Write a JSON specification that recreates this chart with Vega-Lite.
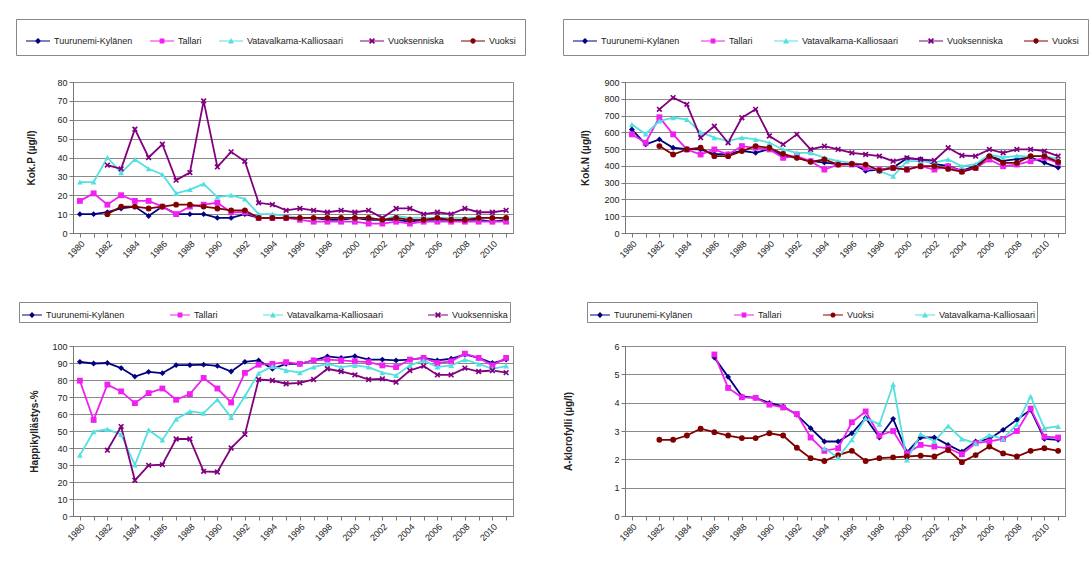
{
"$schema":"https://vega.github.io/schema/vega-lite/v6.json",
"background":"white",
"padding":{"left":15,"top":18,"right":5,"bottom":5},
"config":{"font":"Liberation Sans","view":{"stroke":"#8a8a8a"},
"axis":{"labelFont":"Liberation Sans","titleFont":"Liberation Sans","labelFontSize":9,"titleFontSize":10,"titleFontWeight":"bold","labelColor":"#222","titleColor":"#222","domainColor":"#777","tickColor":"#777","gridColor":"#8a8a8a","tickSize":4},
"legend":{"labelFont":"Liberation Sans","labelFontSize":9,"labelColor":"#222","labelOffset":3}},
"spacing":264,"bounds":"flush",
"resolve":{"scale":{"color":"independent","shape":"independent"},"legend":{"color":"independent","shape":"independent"}},
"vconcat":[
{"hconcat":[
{"width":440,"height":151,
"data":{"values":[
{"year":1980,"site":"Tuurunemi-Kylänen","value":10},{"year":1981,"site":"Tuurunemi-Kylänen","value":10},{"year":1982,"site":"Tuurunemi-Kylänen","value":11},{"year":1983,"site":"Tuurunemi-Kylänen","value":13},{"year":1984,"site":"Tuurunemi-Kylänen","value":14},{"year":1985,"site":"Tuurunemi-Kylänen","value":9},{"year":1986,"site":"Tuurunemi-Kylänen","value":14},{"year":1987,"site":"Tuurunemi-Kylänen","value":10},{"year":1988,"site":"Tuurunemi-Kylänen","value":10},{"year":1989,"site":"Tuurunemi-Kylänen","value":10},{"year":1990,"site":"Tuurunemi-Kylänen","value":8},{"year":1991,"site":"Tuurunemi-Kylänen","value":8},{"year":1992,"site":"Tuurunemi-Kylänen","value":10},{"year":1993,"site":"Tuurunemi-Kylänen","value":8},{"year":1994,"site":"Tuurunemi-Kylänen","value":8},{"year":1995,"site":"Tuurunemi-Kylänen","value":8},{"year":1996,"site":"Tuurunemi-Kylänen","value":8},{"year":1997,"site":"Tuurunemi-Kylänen","value":8},{"year":1998,"site":"Tuurunemi-Kylänen","value":7},{"year":1999,"site":"Tuurunemi-Kylänen","value":7},{"year":2000,"site":"Tuurunemi-Kylänen","value":8},{"year":2001,"site":"Tuurunemi-Kylänen","value":7},{"year":2002,"site":"Tuurunemi-Kylänen","value":7},{"year":2003,"site":"Tuurunemi-Kylänen","value":7},{"year":2004,"site":"Tuurunemi-Kylänen","value":6},{"year":2005,"site":"Tuurunemi-Kylänen","value":7},{"year":2006,"site":"Tuurunemi-Kylänen","value":7},{"year":2007,"site":"Tuurunemi-Kylänen","value":7},{"year":2008,"site":"Tuurunemi-Kylänen","value":7},{"year":2009,"site":"Tuurunemi-Kylänen","value":7},{"year":2010,"site":"Tuurunemi-Kylänen","value":6},{"year":2011,"site":"Tuurunemi-Kylänen","value":7},
{"year":1980,"site":"Tallari","value":17},{"year":1981,"site":"Tallari","value":21},{"year":1982,"site":"Tallari","value":15},{"year":1983,"site":"Tallari","value":20},{"year":1984,"site":"Tallari","value":17},{"year":1985,"site":"Tallari","value":17},{"year":1986,"site":"Tallari","value":14},{"year":1987,"site":"Tallari","value":10},{"year":1988,"site":"Tallari","value":14},{"year":1989,"site":"Tallari","value":15},{"year":1990,"site":"Tallari","value":16},{"year":1991,"site":"Tallari","value":11},{"year":1992,"site":"Tallari","value":11},{"year":1993,"site":"Tallari","value":8},{"year":1994,"site":"Tallari","value":8},{"year":1995,"site":"Tallari","value":8},{"year":1996,"site":"Tallari","value":7},{"year":1997,"site":"Tallari","value":6},{"year":1998,"site":"Tallari","value":6},{"year":1999,"site":"Tallari","value":6},{"year":2000,"site":"Tallari","value":6},{"year":2001,"site":"Tallari","value":5},{"year":2002,"site":"Tallari","value":5},{"year":2003,"site":"Tallari","value":6},{"year":2004,"site":"Tallari","value":5},{"year":2005,"site":"Tallari","value":6},{"year":2006,"site":"Tallari","value":6},{"year":2007,"site":"Tallari","value":6},{"year":2008,"site":"Tallari","value":6},{"year":2009,"site":"Tallari","value":6},{"year":2010,"site":"Tallari","value":6},{"year":2011,"site":"Tallari","value":6},
{"year":1980,"site":"Vatavalkama-Kalliosaari","value":27},{"year":1981,"site":"Vatavalkama-Kalliosaari","value":27},{"year":1982,"site":"Vatavalkama-Kalliosaari","value":40},{"year":1983,"site":"Vatavalkama-Kalliosaari","value":32},{"year":1984,"site":"Vatavalkama-Kalliosaari","value":39},{"year":1985,"site":"Vatavalkama-Kalliosaari","value":34},{"year":1986,"site":"Vatavalkama-Kalliosaari","value":31},{"year":1987,"site":"Vatavalkama-Kalliosaari","value":21},{"year":1988,"site":"Vatavalkama-Kalliosaari","value":23},{"year":1989,"site":"Vatavalkama-Kalliosaari","value":26},{"year":1990,"site":"Vatavalkama-Kalliosaari","value":19},{"year":1991,"site":"Vatavalkama-Kalliosaari","value":20},{"year":1992,"site":"Vatavalkama-Kalliosaari","value":18},{"year":1993,"site":"Vatavalkama-Kalliosaari","value":10},{"year":1994,"site":"Vatavalkama-Kalliosaari","value":10},{"year":1995,"site":"Vatavalkama-Kalliosaari","value":9},{"year":1996,"site":"Vatavalkama-Kalliosaari","value":8},{"year":1997,"site":"Vatavalkama-Kalliosaari","value":8},{"year":1998,"site":"Vatavalkama-Kalliosaari","value":8},{"year":1999,"site":"Vatavalkama-Kalliosaari","value":8},{"year":2000,"site":"Vatavalkama-Kalliosaari","value":8},{"year":2001,"site":"Vatavalkama-Kalliosaari","value":8},{"year":2002,"site":"Vatavalkama-Kalliosaari","value":7},{"year":2003,"site":"Vatavalkama-Kalliosaari","value":9},{"year":2004,"site":"Vatavalkama-Kalliosaari","value":8},{"year":2005,"site":"Vatavalkama-Kalliosaari","value":8},{"year":2006,"site":"Vatavalkama-Kalliosaari","value":8},{"year":2007,"site":"Vatavalkama-Kalliosaari","value":8},{"year":2008,"site":"Vatavalkama-Kalliosaari","value":8},{"year":2009,"site":"Vatavalkama-Kalliosaari","value":8},{"year":2010,"site":"Vatavalkama-Kalliosaari","value":8},{"year":2011,"site":"Vatavalkama-Kalliosaari","value":8},
{"year":1982,"site":"Vuoksenniska","value":36},{"year":1983,"site":"Vuoksenniska","value":34},{"year":1984,"site":"Vuoksenniska","value":55},{"year":1985,"site":"Vuoksenniska","value":40},{"year":1986,"site":"Vuoksenniska","value":47},{"year":1987,"site":"Vuoksenniska","value":28},{"year":1988,"site":"Vuoksenniska","value":32},{"year":1989,"site":"Vuoksenniska","value":70},{"year":1990,"site":"Vuoksenniska","value":35},{"year":1991,"site":"Vuoksenniska","value":43},{"year":1992,"site":"Vuoksenniska","value":38},{"year":1993,"site":"Vuoksenniska","value":16},{"year":1994,"site":"Vuoksenniska","value":15},{"year":1995,"site":"Vuoksenniska","value":12},{"year":1996,"site":"Vuoksenniska","value":13},{"year":1997,"site":"Vuoksenniska","value":12},{"year":1998,"site":"Vuoksenniska","value":11},{"year":1999,"site":"Vuoksenniska","value":12},{"year":2000,"site":"Vuoksenniska","value":11},{"year":2001,"site":"Vuoksenniska","value":12},{"year":2002,"site":"Vuoksenniska","value":8},{"year":2003,"site":"Vuoksenniska","value":13},{"year":2004,"site":"Vuoksenniska","value":13},{"year":2005,"site":"Vuoksenniska","value":10},{"year":2006,"site":"Vuoksenniska","value":11},{"year":2007,"site":"Vuoksenniska","value":10},{"year":2008,"site":"Vuoksenniska","value":13},{"year":2009,"site":"Vuoksenniska","value":11},{"year":2010,"site":"Vuoksenniska","value":11},{"year":2011,"site":"Vuoksenniska","value":12},
{"year":1982,"site":"Vuoksi","value":10},{"year":1983,"site":"Vuoksi","value":14},{"year":1984,"site":"Vuoksi","value":14},{"year":1985,"site":"Vuoksi","value":13},{"year":1986,"site":"Vuoksi","value":14},{"year":1987,"site":"Vuoksi","value":15},{"year":1988,"site":"Vuoksi","value":15},{"year":1989,"site":"Vuoksi","value":14},{"year":1990,"site":"Vuoksi","value":13},{"year":1991,"site":"Vuoksi","value":12},{"year":1992,"site":"Vuoksi","value":12},{"year":1993,"site":"Vuoksi","value":8},{"year":1994,"site":"Vuoksi","value":8},{"year":1995,"site":"Vuoksi","value":8},{"year":1996,"site":"Vuoksi","value":8},{"year":1997,"site":"Vuoksi","value":8},{"year":1998,"site":"Vuoksi","value":8},{"year":1999,"site":"Vuoksi","value":8},{"year":2000,"site":"Vuoksi","value":8},{"year":2001,"site":"Vuoksi","value":8},{"year":2002,"site":"Vuoksi","value":7},{"year":2003,"site":"Vuoksi","value":8},{"year":2004,"site":"Vuoksi","value":7},{"year":2005,"site":"Vuoksi","value":7},{"year":2006,"site":"Vuoksi","value":8},{"year":2007,"site":"Vuoksi","value":7},{"year":2008,"site":"Vuoksi","value":7},{"year":2009,"site":"Vuoksi","value":8},{"year":2010,"site":"Vuoksi","value":8},{"year":2011,"site":"Vuoksi","value":8}
]},
"encoding":{
"x":{"field":"year","type":"quantitative","scale":{"domain":[1979.5,2011.5],"nice":false,"zero":false},"axis":{"title":null,"grid":false,"values":[1980,1981,1982,1983,1984,1985,1986,1987,1988,1989,1990,1991,1992,1993,1994,1995,1996,1997,1998,1999,2000,2001,2002,2003,2004,2005,2006,2007,2008,2009,2010,2011],"labelExpr":"datum.value % 2 == 0 ? datum.value : ''","labelAngle":-45,"labelOverlap":false,"labelBound":false}},
"y":{"field":"value","type":"quantitative","scale":{"domain":[0,80],"nice":false},"axis":{"title":"Kok.P (µg/l)","values":[0,10,20,30,40,50,60,70,80],"grid":true,"titlePadding":20}}
},
"layer":[
{"mark":{"type":"line","strokeWidth":1.8},"encoding":{"color":{"field":"site","type":"nominal","scale":{"domain":["Tuurunemi-Kylänen","Tallari","Vatavalkama-Kalliosaari","Vuoksenniska","Vuoksi"],"range":["#000080","#F020F0","#55E0E0","#800080","#800000"]},"legend":null}}},
{"transform":[{"filter":"false"}],"mark":{"type":"point","filled":true,"opacity":1},"encoding":{
"color":{"field":"site","type":"nominal","scale":{"domain":["Tuurunemi-Kylänen","Tallari","Vatavalkama-Kalliosaari","Vuoksenniska","Vuoksi"],"range":["#000080","#F020F0","#55E0E0","#800080","#800000"]},"legend":{"title":null,"orient":"none","legendX":-57,"legendY":-63,"direction":"horizontal","columns":5,"columnPadding":16,"padding":9,"strokeColor":"#888","fillColor":"white","symbolSize":576}},
"shape":{"field":"site","type":"nominal","scale":{"domain":["Tuurunemi-Kylänen","Tallari","Vatavalkama-Kalliosaari","Vuoksenniska","Vuoksi"],"range":["M-1,-0.04H1V0.04H-1Z M0,-0.26L0.26,0L0,0.26L-0.26,0Z","M-1,-0.04H1V0.04H-1Z M-0.2,-0.2H0.2V0.2H-0.2Z","M-1,-0.04H1V0.04H-1Z M0,-0.25L0.25,0.2L-0.25,0.2Z","M-1,-0.04H1V0.04H-1Z M-0.25,-0.15L-0.15,-0.25L0,-0.1L0.15,-0.25L0.25,-0.15L0.1,0L0.25,0.15L0.15,0.25L0,0.1L-0.15,0.25L-0.25,0.15L-0.1,0Z","M-1,-0.04H1V0.04H-1Z M-0.22,0A0.22,0.22 0 1,1 0.22,0A0.22,0.22 0 1,1 -0.22,0Z"]},"legend":{"title":null,"orient":"none","legendX":-57,"legendY":-63,"direction":"horizontal","columns":5,"columnPadding":16,"padding":9,"strokeColor":"#888","fillColor":"white","symbolSize":576}}}},
{"mark":{"type":"point","filled":true,"size":34,"opacity":1},"encoding":{
"color":{"field":"site","type":"nominal","scale":{"domain":["Tuurunemi-Kylänen","Tallari","Vatavalkama-Kalliosaari","Vuoksenniska","Vuoksi"],"range":["#000080","#F020F0","#55E0E0","#800080","#800000"]},"legend":null},
"shape":{"field":"site","type":"nominal","scale":{"domain":["Tuurunemi-Kylänen","Tallari","Vatavalkama-Kalliosaari","Vuoksenniska","Vuoksi"],"range":["diamond","square","triangle-up","M-1,-0.6L-0.6,-1L0,-0.4L0.6,-1L1,-0.6L0.4,0L1,0.6L0.6,1L0,0.4L-0.6,1L-1,0.6L-0.4,0Z","circle"]},"legend":null}}}
],
"resolve":{"scale":{"color":"independent","shape":"independent"},"legend":{"color":"independent","shape":"independent"}}},
{"width":440,"height":151,
"data":{"values":[
{"year":1980,"site":"Tuurunemi-Kylänen","value":617},{"year":1981,"site":"Tuurunemi-Kylänen","value":528},{"year":1982,"site":"Tuurunemi-Kylänen","value":558},{"year":1983,"site":"Tuurunemi-Kylänen","value":508},{"year":1984,"site":"Tuurunemi-Kylänen","value":500},{"year":1985,"site":"Tuurunemi-Kylänen","value":498},{"year":1986,"site":"Tuurunemi-Kylänen","value":470},{"year":1987,"site":"Tuurunemi-Kylänen","value":470},{"year":1988,"site":"Tuurunemi-Kylänen","value":490},{"year":1989,"site":"Tuurunemi-Kylänen","value":478},{"year":1990,"site":"Tuurunemi-Kylänen","value":500},{"year":1991,"site":"Tuurunemi-Kylänen","value":460},{"year":1992,"site":"Tuurunemi-Kylänen","value":448},{"year":1993,"site":"Tuurunemi-Kylänen","value":430},{"year":1994,"site":"Tuurunemi-Kylänen","value":420},{"year":1995,"site":"Tuurunemi-Kylänen","value":410},{"year":1996,"site":"Tuurunemi-Kylänen","value":415},{"year":1997,"site":"Tuurunemi-Kylänen","value":370},{"year":1998,"site":"Tuurunemi-Kylänen","value":378},{"year":1999,"site":"Tuurunemi-Kylänen","value":390},{"year":2000,"site":"Tuurunemi-Kylänen","value":445},{"year":2001,"site":"Tuurunemi-Kylänen","value":440},{"year":2002,"site":"Tuurunemi-Kylänen","value":410},{"year":2003,"site":"Tuurunemi-Kylänen","value":400},{"year":2004,"site":"Tuurunemi-Kylänen","value":370},{"year":2005,"site":"Tuurunemi-Kylänen","value":400},{"year":2006,"site":"Tuurunemi-Kylänen","value":460},{"year":2007,"site":"Tuurunemi-Kylänen","value":430},{"year":2008,"site":"Tuurunemi-Kylänen","value":440},{"year":2009,"site":"Tuurunemi-Kylänen","value":450},{"year":2010,"site":"Tuurunemi-Kylänen","value":420},{"year":2011,"site":"Tuurunemi-Kylänen","value":390},
{"year":1980,"site":"Tallari","value":588},{"year":1981,"site":"Tallari","value":538},{"year":1982,"site":"Tallari","value":690},{"year":1983,"site":"Tallari","value":588},{"year":1984,"site":"Tallari","value":498},{"year":1985,"site":"Tallari","value":468},{"year":1986,"site":"Tallari","value":498},{"year":1987,"site":"Tallari","value":468},{"year":1988,"site":"Tallari","value":518},{"year":1989,"site":"Tallari","value":508},{"year":1990,"site":"Tallari","value":498},{"year":1991,"site":"Tallari","value":448},{"year":1992,"site":"Tallari","value":458},{"year":1993,"site":"Tallari","value":428},{"year":1994,"site":"Tallari","value":378},{"year":1995,"site":"Tallari","value":408},{"year":1996,"site":"Tallari","value":408},{"year":1997,"site":"Tallari","value":388},{"year":1998,"site":"Tallari","value":378},{"year":1999,"site":"Tallari","value":388},{"year":2000,"site":"Tallari","value":378},{"year":2001,"site":"Tallari","value":398},{"year":2002,"site":"Tallari","value":378},{"year":2003,"site":"Tallari","value":398},{"year":2004,"site":"Tallari","value":368},{"year":2005,"site":"Tallari","value":388},{"year":2006,"site":"Tallari","value":438},{"year":2007,"site":"Tallari","value":398},{"year":2008,"site":"Tallari","value":408},{"year":2009,"site":"Tallari","value":428},{"year":2010,"site":"Tallari","value":448},{"year":2011,"site":"Tallari","value":418},
{"year":1980,"site":"Vatavalkama-Kalliosaari","value":647},{"year":1981,"site":"Vatavalkama-Kalliosaari","value":590},{"year":1982,"site":"Vatavalkama-Kalliosaari","value":667},{"year":1983,"site":"Vatavalkama-Kalliosaari","value":687},{"year":1984,"site":"Vatavalkama-Kalliosaari","value":677},{"year":1985,"site":"Vatavalkama-Kalliosaari","value":600},{"year":1986,"site":"Vatavalkama-Kalliosaari","value":568},{"year":1987,"site":"Vatavalkama-Kalliosaari","value":548},{"year":1988,"site":"Vatavalkama-Kalliosaari","value":568},{"year":1989,"site":"Vatavalkama-Kalliosaari","value":558},{"year":1990,"site":"Vatavalkama-Kalliosaari","value":538},{"year":1991,"site":"Vatavalkama-Kalliosaari","value":498},{"year":1992,"site":"Vatavalkama-Kalliosaari","value":478},{"year":1993,"site":"Vatavalkama-Kalliosaari","value":478},{"year":1994,"site":"Vatavalkama-Kalliosaari","value":448},{"year":1995,"site":"Vatavalkama-Kalliosaari","value":428},{"year":1996,"site":"Vatavalkama-Kalliosaari","value":418},{"year":1997,"site":"Vatavalkama-Kalliosaari","value":408},{"year":1998,"site":"Vatavalkama-Kalliosaari","value":368},{"year":1999,"site":"Vatavalkama-Kalliosaari","value":338},{"year":2000,"site":"Vatavalkama-Kalliosaari","value":428},{"year":2001,"site":"Vatavalkama-Kalliosaari","value":428},{"year":2002,"site":"Vatavalkama-Kalliosaari","value":420},{"year":2003,"site":"Vatavalkama-Kalliosaari","value":438},{"year":2004,"site":"Vatavalkama-Kalliosaari","value":398},{"year":2005,"site":"Vatavalkama-Kalliosaari","value":410},{"year":2006,"site":"Vatavalkama-Kalliosaari","value":468},{"year":2007,"site":"Vatavalkama-Kalliosaari","value":450},{"year":2008,"site":"Vatavalkama-Kalliosaari","value":460},{"year":2009,"site":"Vatavalkama-Kalliosaari","value":455},{"year":2010,"site":"Vatavalkama-Kalliosaari","value":460},{"year":2011,"site":"Vatavalkama-Kalliosaari","value":440},
{"year":1982,"site":"Vuoksenniska","value":737},{"year":1983,"site":"Vuoksenniska","value":807},{"year":1984,"site":"Vuoksenniska","value":767},{"year":1985,"site":"Vuoksenniska","value":568},{"year":1986,"site":"Vuoksenniska","value":637},{"year":1987,"site":"Vuoksenniska","value":538},{"year":1988,"site":"Vuoksenniska","value":687},{"year":1989,"site":"Vuoksenniska","value":737},{"year":1990,"site":"Vuoksenniska","value":578},{"year":1991,"site":"Vuoksenniska","value":528},{"year":1992,"site":"Vuoksenniska","value":588},{"year":1993,"site":"Vuoksenniska","value":498},{"year":1994,"site":"Vuoksenniska","value":518},{"year":1995,"site":"Vuoksenniska","value":498},{"year":1996,"site":"Vuoksenniska","value":478},{"year":1997,"site":"Vuoksenniska","value":468},{"year":1998,"site":"Vuoksenniska","value":458},{"year":1999,"site":"Vuoksenniska","value":428},{"year":2000,"site":"Vuoksenniska","value":448},{"year":2001,"site":"Vuoksenniska","value":438},{"year":2002,"site":"Vuoksenniska","value":432},{"year":2003,"site":"Vuoksenniska","value":508},{"year":2004,"site":"Vuoksenniska","value":462},{"year":2005,"site":"Vuoksenniska","value":458},{"year":2006,"site":"Vuoksenniska","value":498},{"year":2007,"site":"Vuoksenniska","value":478},{"year":2008,"site":"Vuoksenniska","value":498},{"year":2009,"site":"Vuoksenniska","value":498},{"year":2010,"site":"Vuoksenniska","value":488},{"year":2011,"site":"Vuoksenniska","value":458},
{"year":1982,"site":"Vuoksi","value":518},{"year":1983,"site":"Vuoksi","value":468},{"year":1984,"site":"Vuoksi","value":498},{"year":1985,"site":"Vuoksi","value":508},{"year":1986,"site":"Vuoksi","value":458},{"year":1987,"site":"Vuoksi","value":458},{"year":1988,"site":"Vuoksi","value":488},{"year":1989,"site":"Vuoksi","value":518},{"year":1990,"site":"Vuoksi","value":508},{"year":1991,"site":"Vuoksi","value":472},{"year":1992,"site":"Vuoksi","value":448},{"year":1993,"site":"Vuoksi","value":424},{"year":1994,"site":"Vuoksi","value":438},{"year":1995,"site":"Vuoksi","value":408},{"year":1996,"site":"Vuoksi","value":412},{"year":1997,"site":"Vuoksi","value":408},{"year":1998,"site":"Vuoksi","value":372},{"year":1999,"site":"Vuoksi","value":388},{"year":2000,"site":"Vuoksi","value":378},{"year":2001,"site":"Vuoksi","value":398},{"year":2002,"site":"Vuoksi","value":398},{"year":2003,"site":"Vuoksi","value":382},{"year":2004,"site":"Vuoksi","value":365},{"year":2005,"site":"Vuoksi","value":388},{"year":2006,"site":"Vuoksi","value":458},{"year":2007,"site":"Vuoksi","value":418},{"year":2008,"site":"Vuoksi","value":418},{"year":2009,"site":"Vuoksi","value":458},{"year":2010,"site":"Vuoksi","value":458},{"year":2011,"site":"Vuoksi","value":424}
]},
"encoding":{
"x":{"field":"year","type":"quantitative","scale":{"domain":[1979.5,2011.5],"nice":false,"zero":false},"axis":{"title":null,"grid":false,"values":[1980,1981,1982,1983,1984,1985,1986,1987,1988,1989,1990,1991,1992,1993,1994,1995,1996,1997,1998,1999,2000,2001,2002,2003,2004,2005,2006,2007,2008,2009,2010,2011],"labelExpr":"datum.value % 2 == 0 ? datum.value : ''","labelAngle":-45,"labelOverlap":false,"labelBound":false}},
"y":{"field":"value","type":"quantitative","scale":{"domain":[0,900],"nice":false},"axis":{"title":"Kok.N (µg/l)","values":[0,100,200,300,400,500,600,700,800,900],"grid":true,"titlePadding":13}}
},
"layer":[
{"mark":{"type":"line","strokeWidth":1.8},"encoding":{"color":{"field":"site","type":"nominal","scale":{"domain":["Tuurunemi-Kylänen","Tallari","Vatavalkama-Kalliosaari","Vuoksenniska","Vuoksi"],"range":["#000080","#F020F0","#55E0E0","#800080","#800000"]},"legend":null}}},
{"transform":[{"filter":"false"}],"mark":{"type":"point","filled":true,"opacity":1},"encoding":{
"color":{"field":"site","type":"nominal","scale":{"domain":["Tuurunemi-Kylänen","Tallari","Vatavalkama-Kalliosaari","Vuoksenniska","Vuoksi"],"range":["#000080","#F020F0","#55E0E0","#800080","#800000"]},"legend":{"title":null,"orient":"none","legendX":-62,"legendY":-63,"direction":"horizontal","columns":5,"columnPadding":20,"padding":9,"strokeColor":"#888","fillColor":"white","symbolSize":576}},
"shape":{"field":"site","type":"nominal","scale":{"domain":["Tuurunemi-Kylänen","Tallari","Vatavalkama-Kalliosaari","Vuoksenniska","Vuoksi"],"range":["M-1,-0.04H1V0.04H-1Z M0,-0.26L0.26,0L0,0.26L-0.26,0Z","M-1,-0.04H1V0.04H-1Z M-0.2,-0.2H0.2V0.2H-0.2Z","M-1,-0.04H1V0.04H-1Z M0,-0.25L0.25,0.2L-0.25,0.2Z","M-1,-0.04H1V0.04H-1Z M-0.25,-0.15L-0.15,-0.25L0,-0.1L0.15,-0.25L0.25,-0.15L0.1,0L0.25,0.15L0.15,0.25L0,0.1L-0.15,0.25L-0.25,0.15L-0.1,0Z","M-1,-0.04H1V0.04H-1Z M-0.22,0A0.22,0.22 0 1,1 0.22,0A0.22,0.22 0 1,1 -0.22,0Z"]},"legend":{"title":null,"orient":"none","legendX":-62,"legendY":-63,"direction":"horizontal","columns":5,"columnPadding":20,"padding":9,"strokeColor":"#888","fillColor":"white","symbolSize":576}}}},
{"mark":{"type":"point","filled":true,"size":34,"opacity":1},"encoding":{
"color":{"field":"site","type":"nominal","scale":{"domain":["Tuurunemi-Kylänen","Tallari","Vatavalkama-Kalliosaari","Vuoksenniska","Vuoksi"],"range":["#000080","#F020F0","#55E0E0","#800080","#800000"]},"legend":null},
"shape":{"field":"site","type":"nominal","scale":{"domain":["Tuurunemi-Kylänen","Tallari","Vatavalkama-Kalliosaari","Vuoksenniska","Vuoksi"],"range":["diamond","square","triangle-up","M-1,-0.6L-0.6,-1L0,-0.4L0.6,-1L1,-0.6L0.4,0L1,0.6L0.6,1L0,0.4L-0.6,1L-1,0.6L-0.4,0Z","circle"]},"legend":null}}}
],
"resolve":{"scale":{"color":"independent","shape":"independent"},"legend":{"color":"independent","shape":"independent"}}}
],"spacing":112,"bounds":"flush",
"resolve":{"scale":{"color":"independent","shape":"independent"},"legend":{"color":"independent","shape":"independent"}}},
{"hconcat":[
{"width":440,"height":170,
"data":{"values":[
{"year":1980,"site":"Tuurunemi-Kylänen","value":90.7},{"year":1981,"site":"Tuurunemi-Kylänen","value":89.7},{"year":1982,"site":"Tuurunemi-Kylänen","value":90},{"year":1983,"site":"Tuurunemi-Kylänen","value":87},{"year":1984,"site":"Tuurunemi-Kylänen","value":82},{"year":1985,"site":"Tuurunemi-Kylänen","value":84.8},{"year":1986,"site":"Tuurunemi-Kylänen","value":84},{"year":1987,"site":"Tuurunemi-Kylänen","value":88.7},{"year":1988,"site":"Tuurunemi-Kylänen","value":88.7},{"year":1989,"site":"Tuurunemi-Kylänen","value":89},{"year":1990,"site":"Tuurunemi-Kylänen","value":88.3},{"year":1991,"site":"Tuurunemi-Kylänen","value":85},{"year":1992,"site":"Tuurunemi-Kylänen","value":90.7},{"year":1993,"site":"Tuurunemi-Kylänen","value":91.5},{"year":1994,"site":"Tuurunemi-Kylänen","value":86.6},{"year":1995,"site":"Tuurunemi-Kylänen","value":89.5},{"year":1996,"site":"Tuurunemi-Kylänen","value":89.5},{"year":1997,"site":"Tuurunemi-Kylänen","value":91.5},{"year":1998,"site":"Tuurunemi-Kylänen","value":93.9},{"year":1999,"site":"Tuurunemi-Kylänen","value":93},{"year":2000,"site":"Tuurunemi-Kylänen","value":94},{"year":2001,"site":"Tuurunemi-Kylänen","value":92},{"year":2002,"site":"Tuurunemi-Kylänen","value":92},{"year":2003,"site":"Tuurunemi-Kylänen","value":91.5},{"year":2004,"site":"Tuurunemi-Kylänen","value":92},{"year":2005,"site":"Tuurunemi-Kylänen","value":93},{"year":2006,"site":"Tuurunemi-Kylänen","value":91.5},{"year":2007,"site":"Tuurunemi-Kylänen","value":92.5},{"year":2008,"site":"Tuurunemi-Kylänen","value":95},{"year":2009,"site":"Tuurunemi-Kylänen","value":93},{"year":2010,"site":"Tuurunemi-Kylänen","value":90},{"year":2011,"site":"Tuurunemi-Kylänen","value":92},
{"year":1980,"site":"Tallari","value":79.6},{"year":1981,"site":"Tallari","value":56.5},{"year":1982,"site":"Tallari","value":77.3},{"year":1983,"site":"Tallari","value":73.3},{"year":1984,"site":"Tallari","value":66.4},{"year":1985,"site":"Tallari","value":72.3},{"year":1986,"site":"Tallari","value":75},{"year":1987,"site":"Tallari","value":68.4},{"year":1988,"site":"Tallari","value":71.7},{"year":1989,"site":"Tallari","value":81.2},{"year":1990,"site":"Tallari","value":75},{"year":1991,"site":"Tallari","value":66.8},{"year":1992,"site":"Tallari","value":84.2},{"year":1993,"site":"Tallari","value":89},{"year":1994,"site":"Tallari","value":89.5},{"year":1995,"site":"Tallari","value":90.5},{"year":1996,"site":"Tallari","value":89.5},{"year":1997,"site":"Tallari","value":91.5},{"year":1998,"site":"Tallari","value":92},{"year":1999,"site":"Tallari","value":91.5},{"year":2000,"site":"Tallari","value":91},{"year":2001,"site":"Tallari","value":90.5},{"year":2002,"site":"Tallari","value":88.6},{"year":2003,"site":"Tallari","value":87.6},{"year":2004,"site":"Tallari","value":92},{"year":2005,"site":"Tallari","value":93},{"year":2006,"site":"Tallari","value":90},{"year":2007,"site":"Tallari","value":91},{"year":2008,"site":"Tallari","value":95.5},{"year":2009,"site":"Tallari","value":93},{"year":2010,"site":"Tallari","value":88.6},{"year":2011,"site":"Tallari","value":93},
{"year":1980,"site":"Vatavalkama-Kalliosaari","value":35.8},{"year":1981,"site":"Vatavalkama-Kalliosaari","value":49.6},{"year":1982,"site":"Vatavalkama-Kalliosaari","value":51},{"year":1983,"site":"Vatavalkama-Kalliosaari","value":48},{"year":1984,"site":"Vatavalkama-Kalliosaari","value":30},{"year":1985,"site":"Vatavalkama-Kalliosaari","value":50.6},{"year":1986,"site":"Vatavalkama-Kalliosaari","value":44.7},{"year":1987,"site":"Vatavalkama-Kalliosaari","value":57},{"year":1988,"site":"Vatavalkama-Kalliosaari","value":61.5},{"year":1989,"site":"Vatavalkama-Kalliosaari","value":60.5},{"year":1990,"site":"Vatavalkama-Kalliosaari","value":68.4},{"year":1991,"site":"Vatavalkama-Kalliosaari","value":58},{"year":1992,"site":"Vatavalkama-Kalliosaari","value":70.4},{"year":1993,"site":"Vatavalkama-Kalliosaari","value":84},{"year":1994,"site":"Vatavalkama-Kalliosaari","value":88},{"year":1995,"site":"Vatavalkama-Kalliosaari","value":85.6},{"year":1996,"site":"Vatavalkama-Kalliosaari","value":84.3},{"year":1997,"site":"Vatavalkama-Kalliosaari","value":87.6},{"year":1998,"site":"Vatavalkama-Kalliosaari","value":89.5},{"year":1999,"site":"Vatavalkama-Kalliosaari","value":87.6},{"year":2000,"site":"Vatavalkama-Kalliosaari","value":88.6},{"year":2001,"site":"Vatavalkama-Kalliosaari","value":87.6},{"year":2002,"site":"Vatavalkama-Kalliosaari","value":84.3},{"year":2003,"site":"Vatavalkama-Kalliosaari","value":82.7},{"year":2004,"site":"Vatavalkama-Kalliosaari","value":88.6},{"year":2005,"site":"Vatavalkama-Kalliosaari","value":91.5},{"year":2006,"site":"Vatavalkama-Kalliosaari","value":87.6},{"year":2007,"site":"Vatavalkama-Kalliosaari","value":88.6},{"year":2008,"site":"Vatavalkama-Kalliosaari","value":92},{"year":2009,"site":"Vatavalkama-Kalliosaari","value":89.5},{"year":2010,"site":"Vatavalkama-Kalliosaari","value":86.6},{"year":2011,"site":"Vatavalkama-Kalliosaari","value":88.2},
{"year":1982,"site":"Vuoksenniska","value":38.7},{"year":1983,"site":"Vuoksenniska","value":52.6},{"year":1984,"site":"Vuoksenniska","value":21},{"year":1985,"site":"Vuoksenniska","value":29.8},{"year":1986,"site":"Vuoksenniska","value":30.2},{"year":1987,"site":"Vuoksenniska","value":45.3},{"year":1988,"site":"Vuoksenniska","value":45.3},{"year":1989,"site":"Vuoksenniska","value":26.3},{"year":1990,"site":"Vuoksenniska","value":25.9},{"year":1991,"site":"Vuoksenniska","value":40},{"year":1992,"site":"Vuoksenniska","value":48},{"year":1993,"site":"Vuoksenniska","value":80.3},{"year":1994,"site":"Vuoksenniska","value":79.7},{"year":1995,"site":"Vuoksenniska","value":77.8},{"year":1996,"site":"Vuoksenniska","value":78.3},{"year":1997,"site":"Vuoksenniska","value":80.3},{"year":1998,"site":"Vuoksenniska","value":86.6},{"year":1999,"site":"Vuoksenniska","value":85},{"year":2000,"site":"Vuoksenniska","value":83},{"year":2001,"site":"Vuoksenniska","value":80.3},{"year":2002,"site":"Vuoksenniska","value":80.7},{"year":2003,"site":"Vuoksenniska","value":78.7},{"year":2004,"site":"Vuoksenniska","value":85.6},{"year":2005,"site":"Vuoksenniska","value":88.2},{"year":2006,"site":"Vuoksenniska","value":83},{"year":2007,"site":"Vuoksenniska","value":83},{"year":2008,"site":"Vuoksenniska","value":87},{"year":2009,"site":"Vuoksenniska","value":85},{"year":2010,"site":"Vuoksenniska","value":85.6},{"year":2011,"site":"Vuoksenniska","value":84.3}
]},
"encoding":{
"x":{"field":"year","type":"quantitative","scale":{"domain":[1979.5,2011.5],"nice":false,"zero":false},"axis":{"title":null,"grid":false,"values":[1980,1981,1982,1983,1984,1985,1986,1987,1988,1989,1990,1991,1992,1993,1994,1995,1996,1997,1998,1999,2000,2001,2002,2003,2004,2005,2006,2007,2008,2009,2010,2011],"labelExpr":"datum.value % 2 == 0 ? datum.value : ''","labelAngle":-45,"labelOverlap":false,"labelBound":false}},
"y":{"field":"value","type":"quantitative","scale":{"domain":[0,100],"nice":false},"axis":{"title":"Happikyllästys-%","values":[0,10,20,30,40,50,60,70,80,90,100],"grid":true,"titlePadding":12}}
},
"layer":[
{"mark":{"type":"line","strokeWidth":1.8},"encoding":{"color":{"field":"site","type":"nominal","scale":{"domain":["Tuurunemi-Kylänen","Tallari","Vatavalkama-Kalliosaari","Vuoksenniska"],"range":["#000080","#F020F0","#55E0E0","#800080"]},"legend":null}}},
{"transform":[{"filter":"false"}],"mark":{"type":"point","filled":true,"opacity":1},"encoding":{
"color":{"field":"site","type":"nominal","scale":{"domain":["Tuurunemi-Kylänen","Tallari","Vatavalkama-Kalliosaari","Vuoksenniska"],"range":["#000080","#F020F0","#55E0E0","#800080"]},"legend":{"title":null,"orient":"none","legendX":-54,"legendY":-44,"direction":"horizontal","columns":4,"columnPadding":44,"padding":2,"strokeColor":"#888","fillColor":"white","symbolSize":400}},
"shape":{"field":"site","type":"nominal","scale":{"domain":["Tuurunemi-Kylänen","Tallari","Vatavalkama-Kalliosaari","Vuoksenniska"],"range":["M-1,-0.05H1V0.05H-1Z M0,-0.3L0.3,0L0,0.3L-0.3,0Z","M-1,-0.05H1V0.05H-1Z M-0.24,-0.24H0.24V0.24H-0.24Z","M-1,-0.05H1V0.05H-1Z M0,-0.3L0.3,0.24L-0.3,0.24Z","M-1,-0.05H1V0.05H-1Z M-0.3,-0.18L-0.18,-0.3L0,-0.12L0.18,-0.3L0.3,-0.18L0.12,0L0.3,0.18L0.18,0.3L0,0.12L-0.18,0.3L-0.3,0.18L-0.12,0Z"]},"legend":{"title":null,"orient":"none","legendX":-54,"legendY":-44,"direction":"horizontal","columns":4,"columnPadding":44,"padding":2,"strokeColor":"#888","fillColor":"white","symbolSize":400}}}},
{"mark":{"type":"point","filled":true,"size":34,"opacity":1},"encoding":{
"color":{"field":"site","type":"nominal","scale":{"domain":["Tuurunemi-Kylänen","Tallari","Vatavalkama-Kalliosaari","Vuoksenniska"],"range":["#000080","#F020F0","#55E0E0","#800080"]},"legend":null},
"shape":{"field":"site","type":"nominal","scale":{"domain":["Tuurunemi-Kylänen","Tallari","Vatavalkama-Kalliosaari","Vuoksenniska"],"range":["diamond","square","triangle-up","M-1,-0.6L-0.6,-1L0,-0.4L0.6,-1L1,-0.6L0.4,0L1,0.6L0.6,1L0,0.4L-0.6,1L-1,0.6L-0.4,0Z"]},"legend":null}}}
],
"resolve":{"scale":{"color":"independent","shape":"independent"},"legend":{"color":"independent","shape":"independent"}}},
{"width":440,"height":170,
"data":{"values":[
{"year":1986,"site":"Tuurunemi-Kylänen","value":5.59},{"year":1987,"site":"Tuurunemi-Kylänen","value":4.91},{"year":1988,"site":"Tuurunemi-Kylänen","value":4.22},{"year":1989,"site":"Tuurunemi-Kylänen","value":4.17},{"year":1990,"site":"Tuurunemi-Kylänen","value":3.99},{"year":1991,"site":"Tuurunemi-Kylänen","value":3.87},{"year":1992,"site":"Tuurunemi-Kylänen","value":3.57},{"year":1993,"site":"Tuurunemi-Kylänen","value":3.1},{"year":1994,"site":"Tuurunemi-Kylänen","value":2.63},{"year":1995,"site":"Tuurunemi-Kylänen","value":2.63},{"year":1996,"site":"Tuurunemi-Kylänen","value":2.92},{"year":1997,"site":"Tuurunemi-Kylänen","value":3.46},{"year":1998,"site":"Tuurunemi-Kylänen","value":2.77},{"year":1999,"site":"Tuurunemi-Kylänen","value":3.43},{"year":2000,"site":"Tuurunemi-Kylänen","value":2.25},{"year":2001,"site":"Tuurunemi-Kylänen","value":2.77},{"year":2002,"site":"Tuurunemi-Kylänen","value":2.77},{"year":2003,"site":"Tuurunemi-Kylänen","value":2.51},{"year":2004,"site":"Tuurunemi-Kylänen","value":2.27},{"year":2005,"site":"Tuurunemi-Kylänen","value":2.63},{"year":2006,"site":"Tuurunemi-Kylänen","value":2.72},{"year":2007,"site":"Tuurunemi-Kylänen","value":3.04},{"year":2008,"site":"Tuurunemi-Kylänen","value":3.4},{"year":2009,"site":"Tuurunemi-Kylänen","value":3.75},{"year":2010,"site":"Tuurunemi-Kylänen","value":2.72},{"year":2011,"site":"Tuurunemi-Kylänen","value":2.69},
{"year":1986,"site":"Tallari","value":5.7},{"year":1987,"site":"Tallari","value":4.52},{"year":1988,"site":"Tallari","value":4.19},{"year":1989,"site":"Tallari","value":4.17},{"year":1990,"site":"Tallari","value":3.93},{"year":1991,"site":"Tallari","value":3.83},{"year":1992,"site":"Tallari","value":3.6},{"year":1993,"site":"Tallari","value":2.77},{"year":1994,"site":"Tallari","value":2.3},{"year":1995,"site":"Tallari","value":2.39},{"year":1996,"site":"Tallari","value":3.31},{"year":1997,"site":"Tallari","value":3.69},{"year":1998,"site":"Tallari","value":2.84},{"year":1999,"site":"Tallari","value":3.0},{"year":2000,"site":"Tallari","value":2.21},{"year":2001,"site":"Tallari","value":2.51},{"year":2002,"site":"Tallari","value":2.45},{"year":2003,"site":"Tallari","value":2.39},{"year":2004,"site":"Tallari","value":2.18},{"year":2005,"site":"Tallari","value":2.57},{"year":2006,"site":"Tallari","value":2.63},{"year":2007,"site":"Tallari","value":2.72},{"year":2008,"site":"Tallari","value":3.0},{"year":2009,"site":"Tallari","value":3.79},{"year":2010,"site":"Tallari","value":2.8},{"year":2011,"site":"Tallari","value":2.77},
{"year":1982,"site":"Vuoksi","value":2.69},{"year":1983,"site":"Vuoksi","value":2.69},{"year":1984,"site":"Vuoksi","value":2.84},{"year":1985,"site":"Vuoksi","value":3.08},{"year":1986,"site":"Vuoksi","value":2.96},{"year":1987,"site":"Vuoksi","value":2.84},{"year":1988,"site":"Vuoksi","value":2.75},{"year":1989,"site":"Vuoksi","value":2.75},{"year":1990,"site":"Vuoksi","value":2.92},{"year":1991,"site":"Vuoksi","value":2.84},{"year":1992,"site":"Vuoksi","value":2.41},{"year":1993,"site":"Vuoksi","value":2.04},{"year":1994,"site":"Vuoksi","value":1.94},{"year":1995,"site":"Vuoksi","value":2.15},{"year":1996,"site":"Vuoksi","value":2.3},{"year":1997,"site":"Vuoksi","value":1.94},{"year":1998,"site":"Vuoksi","value":2.04},{"year":1999,"site":"Vuoksi","value":2.07},{"year":2000,"site":"Vuoksi","value":2.1},{"year":2001,"site":"Vuoksi","value":2.13},{"year":2002,"site":"Vuoksi","value":2.1},{"year":2003,"site":"Vuoksi","value":2.33},{"year":2004,"site":"Vuoksi","value":1.9},{"year":2005,"site":"Vuoksi","value":2.15},{"year":2006,"site":"Vuoksi","value":2.45},{"year":2007,"site":"Vuoksi","value":2.21},{"year":2008,"site":"Vuoksi","value":2.1},{"year":2009,"site":"Vuoksi","value":2.3},{"year":2010,"site":"Vuoksi","value":2.39},{"year":2011,"site":"Vuoksi","value":2.3},
{"year":1994,"site":"Vatavalkama-Kalliosaari","value":2.39},{"year":1995,"site":"Vatavalkama-Kalliosaari","value":2.06},{"year":1996,"site":"Vatavalkama-Kalliosaari","value":2.69},{"year":1997,"site":"Vatavalkama-Kalliosaari","value":3.45},{"year":1998,"site":"Vatavalkama-Kalliosaari","value":3.24},{"year":1999,"site":"Vatavalkama-Kalliosaari","value":4.64},{"year":2000,"site":"Vatavalkama-Kalliosaari","value":1.98},{"year":2001,"site":"Vatavalkama-Kalliosaari","value":2.89},{"year":2002,"site":"Vatavalkama-Kalliosaari","value":2.63},{"year":2003,"site":"Vatavalkama-Kalliosaari","value":3.18},{"year":2004,"site":"Vatavalkama-Kalliosaari","value":2.72},{"year":2005,"site":"Vatavalkama-Kalliosaari","value":2.57},{"year":2006,"site":"Vatavalkama-Kalliosaari","value":2.86},{"year":2007,"site":"Vatavalkama-Kalliosaari","value":2.72},{"year":2008,"site":"Vatavalkama-Kalliosaari","value":3.24},{"year":2009,"site":"Vatavalkama-Kalliosaari","value":4.22},{"year":2010,"site":"Vatavalkama-Kalliosaari","value":3.1},{"year":2011,"site":"Vatavalkama-Kalliosaari","value":3.16}
]},
"encoding":{
"x":{"field":"year","type":"quantitative","scale":{"domain":[1979.5,2011.5],"nice":false,"zero":false},"axis":{"title":null,"grid":false,"values":[1980,1981,1982,1983,1984,1985,1986,1987,1988,1989,1990,1991,1992,1993,1994,1995,1996,1997,1998,1999,2000,2001,2002,2003,2004,2005,2006,2007,2008,2009,2010,2011],"labelExpr":"datum.value % 2 == 0 ? datum.value : ''","labelAngle":-45,"labelOverlap":false,"labelBound":false}},
"y":{"field":"value","type":"quantitative","scale":{"domain":[0,6],"nice":false},"axis":{"title":"A-klorofylli (µg/l)","values":[0,1,2,3,4,5,6],"grid":true,"titlePadding":40}}
},
"layer":[
{"mark":{"type":"line","strokeWidth":1.8},"encoding":{"color":{"field":"site","type":"nominal","scale":{"domain":["Tuurunemi-Kylänen","Tallari","Vuoksi","Vatavalkama-Kalliosaari"],"range":["#000080","#F020F0","#800000","#55E0E0"]},"legend":null}}},
{"transform":[{"filter":"false"}],"mark":{"type":"point","filled":true,"opacity":1},"encoding":{
"color":{"field":"site","type":"nominal","scale":{"domain":["Tuurunemi-Kylänen","Tallari","Vuoksi","Vatavalkama-Kalliosaari"],"range":["#000080","#F020F0","#800000","#55E0E0"]},"legend":{"title":null,"orient":"none","legendX":-38,"legendY":-44,"direction":"horizontal","columns":4,"columnPadding":40,"padding":2,"strokeColor":"#888","fillColor":"white","symbolSize":400}},
"shape":{"field":"site","type":"nominal","scale":{"domain":["Tuurunemi-Kylänen","Tallari","Vuoksi","Vatavalkama-Kalliosaari"],"range":["M-1,-0.05H1V0.05H-1Z M0,-0.3L0.3,0L0,0.3L-0.3,0Z","M-1,-0.05H1V0.05H-1Z M-0.24,-0.24H0.24V0.24H-0.24Z","M-1,-0.05H1V0.05H-1Z M-0.26,0A0.26,0.26 0 1,1 0.26,0A0.26,0.26 0 1,1 -0.26,0Z","M-1,-0.05H1V0.05H-1Z M0,-0.3L0.3,0.24L-0.3,0.24Z"]},"legend":{"title":null,"orient":"none","legendX":-38,"legendY":-44,"direction":"horizontal","columns":4,"columnPadding":40,"padding":2,"strokeColor":"#888","fillColor":"white","symbolSize":400}}}},
{"mark":{"type":"point","filled":true,"size":34,"opacity":1},"encoding":{
"color":{"field":"site","type":"nominal","scale":{"domain":["Tuurunemi-Kylänen","Tallari","Vuoksi","Vatavalkama-Kalliosaari"],"range":["#000080","#F020F0","#800000","#55E0E0"]},"legend":null},
"shape":{"field":"site","type":"nominal","scale":{"domain":["Tuurunemi-Kylänen","Tallari","Vuoksi","Vatavalkama-Kalliosaari"],"range":["diamond","square","circle","triangle-up"]},"legend":null}}}
],
"resolve":{"scale":{"color":"independent","shape":"independent"},"legend":{"color":"independent","shape":"independent"}}}
],"spacing":112,"bounds":"flush",
"resolve":{"scale":{"color":"independent","shape":"independent"},"legend":{"color":"independent","shape":"independent"}}}
]
}
